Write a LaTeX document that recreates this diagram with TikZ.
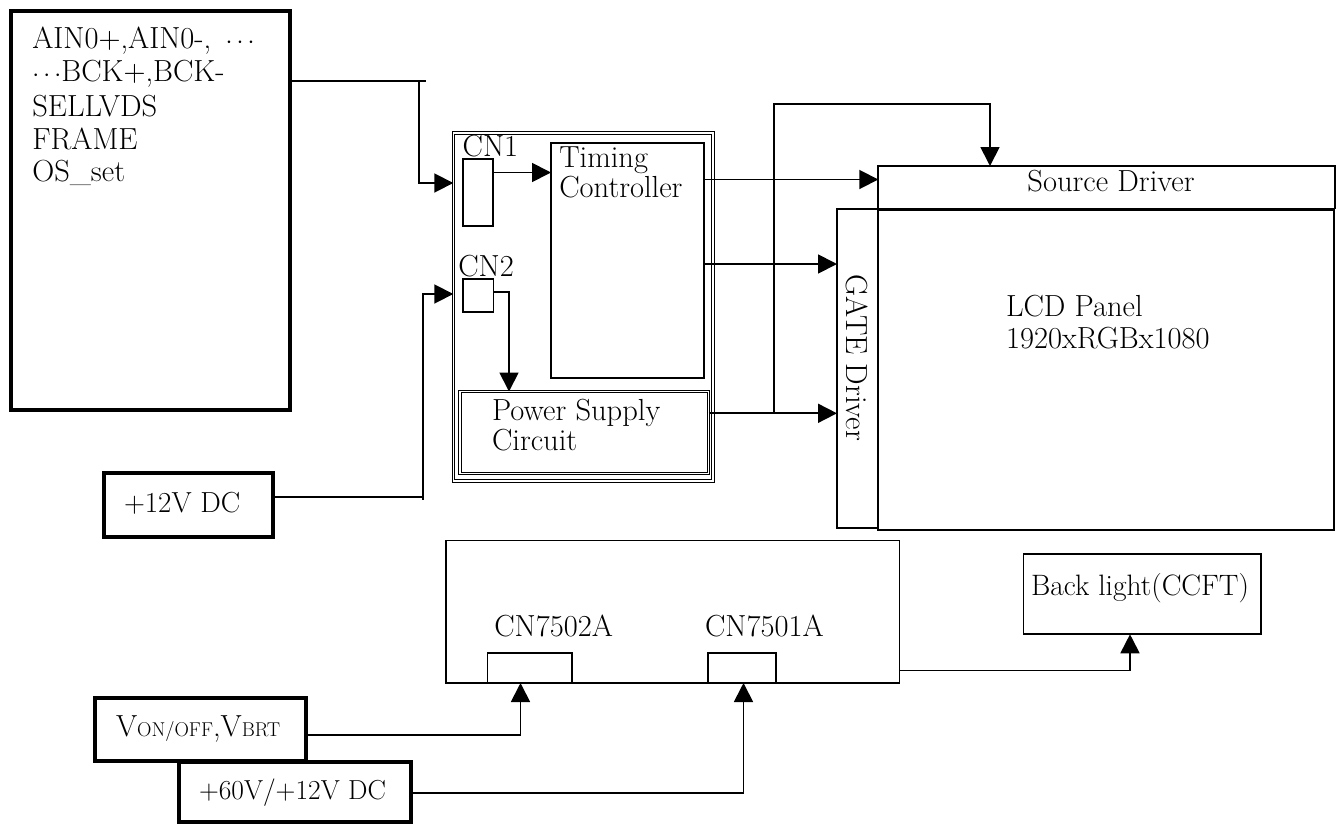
\documentclass[tikz,border=0pt]{standalone}
\usetikzlibrary{arrows.meta}
\begin{document}
\begin{tikzpicture}[x=1pt,y=-1pt,
  every node/.style={inner sep=0pt, outer sep=0pt},
  txt/.style={anchor=base west, font=\fontsize{30.5}{34}\selectfont},
  ln/.style={line width=1.8pt},
  arr/.style={line width=1.8pt, -{Triangle[length=19pt,width=19pt]}},
  blk/.style={draw, line width=1.8pt, anchor=north west},
  heavy/.style={draw, line width=4pt, anchor=north west},
  dbl/.style={draw, double, line width=1pt, double distance=1.2pt, anchor=north west},
]
\useasboundingbox (0,0) rectangle (1339,825);

% ---- boxes ----
\node[heavy, minimum width=279.5pt, minimum height=399.5pt] (in) at (10.5,10.5) {};
\node[heavy, minimum width=168.5pt, minimum height=64pt] (p12) at (104,473) {};
\node[dbl, minimum width=259.7pt, minimum height=348pt] (board) at (453.3,133) {};
\node[blk, minimum width=30pt, minimum height=67.3pt] (cn1) at (463,158.7) {};
\node[blk, minimum width=153.3pt, minimum height=235pt] (tc) at (551,143) {};
\node[blk, minimum width=30.5pt, minimum height=33pt] (cn2) at (463,279) {};
\node[dbl, minimum width=248.5pt, minimum height=81.8pt] (ps) at (460,391.5) {};
\node[blk, minimum width=456.7pt, minimum height=42.5pt] (sd) at (878.3,166) {};
\node[blk, minimum width=41pt, minimum height=319.3pt] (gate) at (837,209) {};
\node[blk, minimum width=456pt, minimum height=320pt] (panel) at (878,210) {};
\node[blk, minimum width=453.5pt, minimum height=142.5pt] (bb) at (446,540.5) {};
\node[blk, minimum width=84.5pt, minimum height=29.7pt] (cna) at (487.5,653.3) {};
\node[blk, minimum width=68.3pt, minimum height=29.7pt] (cnb) at (707.7,653.3) {};
\node[blk, minimum width=237.5pt, minimum height=80pt] (bl) at (1023.5,554.3) {};
\node[heavy, minimum width=211pt, minimum height=63pt] (von) at (94.7,697.8) {};
\node[heavy, minimum width=232.6pt, minimum height=60pt] (p60) at (178.7,762) {};

% ---- texts ----
\node[txt] (t1) at (32.3,48.3) {AIN0+,AIN0-, \,$\cdots$};
\node[txt] (t2) at (32.3,81.7) {$\cdots$BCK+,BCK-};
\node[txt] (t3) at (32.3,116.5) {SELLVDS};
\node[txt] (t4) at (32.3,149) {FRAME};
\node[txt] (t5) at (32.3,181) {OS\_set};
\node[txt, font=\fontsize{29}{33}\selectfont] (tp12) at (124,512) {+12V DC};
\node[txt] (tcn1) at (462.7,156.7) {CN1};
\node[txt] (tcn2) at (458.3,276) {CN2};
\node[txt] (ttc1) at (559.3,167.3) {Timing};
\node[txt] (ttc2) at (559.3,197.3) {Controller};
\node[txt] (tps1) at (492,420) {Power Supply};
\node[txt] (tps2) at (492,450) {Circuit};
\node[txt, anchor=base] (tsd) at (1111,191) {Source Driver};
\node[txt, anchor=base, rotate=-90] (tgate) at (846,357.5) {GATE Driver};
\node[txt] (tlcd1) at (1006,316) {LCD Panel};
\node[txt] (tlcd2) at (1006,348.3) {1920xRGBx1080};
\node[txt, font=\fontsize{29.5}{33}\selectfont] (tbl) at (1031,595) {Back light(CCFT)};
\node[txt] (tcna) at (494.3,636) {CN7502A};
\node[txt] (tcnb) at (705,636) {CN7501A};
\node[txt] (tvon) at (116,736.7) {V{\fontsize{20}{22}\selectfont ON/OFF},V{\fontsize{20}{22}\selectfont BRT}};
\node[txt, font=\fontsize{27.5}{31}\selectfont] (tp60) at (199,799.3) {+60V/+12V DC};

% ---- connectors ----
\coordinate (j1) at (419,81);
\coordinate (j1s) at (426,81);
\coordinate (k1) at (419,183);
\draw[ln] (in.east |- j1) -- (j1s);
\draw[arr] (j1) -- (k1) -- (board.west |- k1);

\coordinate (j2) at (423,497);
\coordinate (j2s) at (423,500);
\coordinate (k2) at (423,294);
\draw[ln] (p12.east |- j2) -- (j2);
\draw[arr] (j2s) -- (k2) -- (board.west |- k2);

\coordinate (k3) at (493,172.5);
\draw[arr] (cn1.east |- k3) -- (tc.west |- k3);

\coordinate (k4) at (509,291.7);
\draw[arr] (cn2.east |- k4) -- (k4) -- (ps.north -| k4);

\coordinate (k5) at (704,179.5);
\draw[arr] (tc.east |- k5) -- (sd.west |- k5);

\coordinate (k6) at (704,264);
\draw[arr] (tc.east |- k6) -- (gate.west |- k6);

\coordinate (k7) at (774,413.3);
\coordinate (k8) at (774,103.7);
\coordinate (k9) at (990,103.7);
\draw[arr] (ps.east |- k7) -- (gate.west |- k7);
\draw[arr] (k7) -- (k8) -- (k9) -- (sd.north -| k9);

\coordinate (k10) at (1130,670.5);
\draw[arr] (bb.east |- k10) -- (k10) -- (bl.south -| k10);

\coordinate (k11) at (520.5,735);
\draw[arr] (von.east |- k11) -- (k11) -- (cna.south -| k11);

\coordinate (k12) at (743.5,793.3);
\draw[arr] (p60.east |- k12) -- (k12) -- (cnb.south -| k12);
\end{tikzpicture}
\end{document}
